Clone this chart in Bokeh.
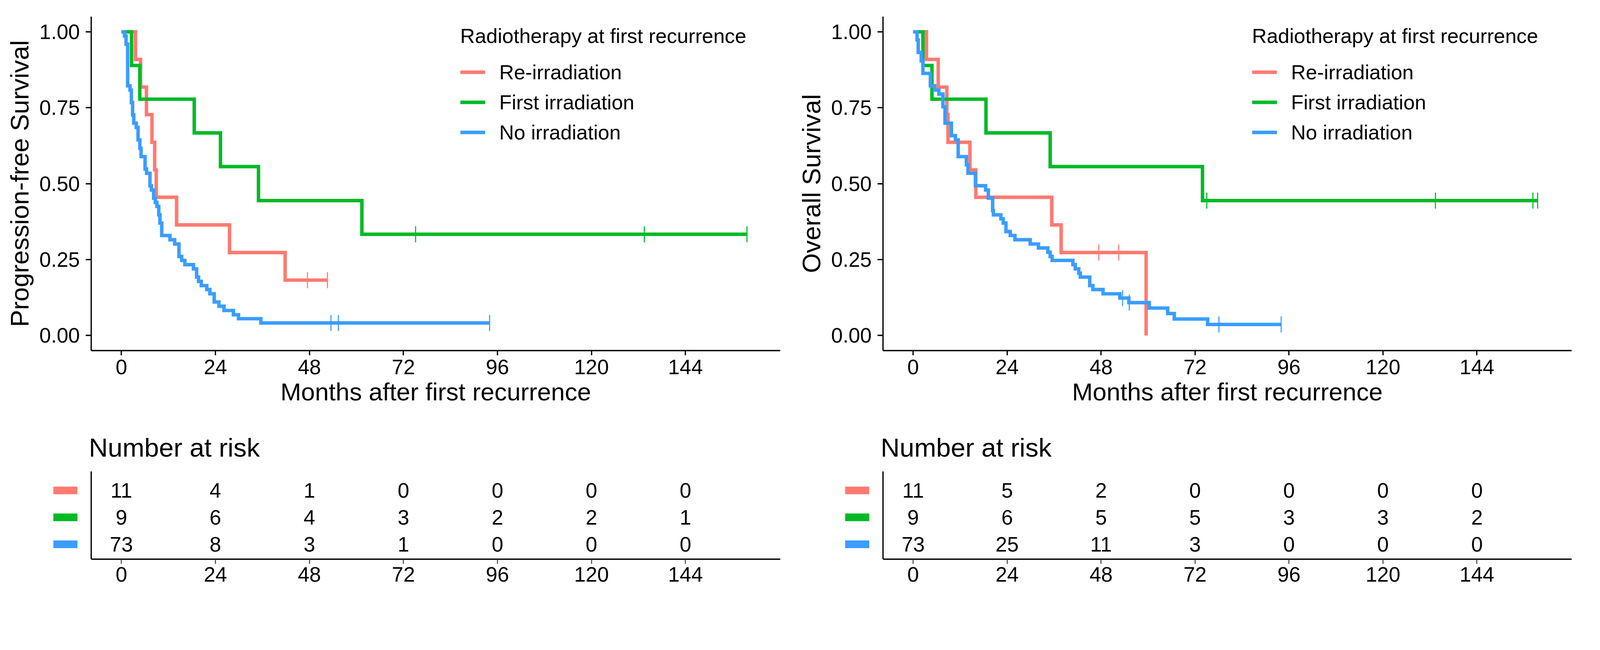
import numpy as np
from bokeh.plotting import figure
from bokeh.models import (Range1d, FixedTicker, NumeralTickFormatter, Legend,
                          LegendItem, ColumnDataSource, Span)
from bokeh.layouts import row, column
from bokeh.embed import file_html
from bokeh.resources import INLINE
from bokeh.core.properties import value

FONT = "Liberation Sans"

# ---------------- data ----------------
groups = ["Re-irradiation", "First irradiation", "No irradiation"]
colors = ["#FF7A70", "#00BA26", "#3A9DFF"]
legend_title = "Radiotherapy at first recurrence"
x_title = "Months after first recurrence"
pfs_y_title = "Progression-free Survival"
os_y_title = "Overall Survival"
risk_title = "Number at risk"
x_ticks = [0, 24, 48, 72, 96, 120, 144]
y_ticks = [0, 0.25, 0.5, 0.75, 1.0]
risk_times = [0, 24, 48, 72, 96, 120, 144]

# Progression-free survival (step times / survival level after step)
pfs_red_t = [0, 3.6, 4.9, 6.4, 7.8, 8.5, 8.9, 14.1, 27.6, 41.8, 52.6]
pfs_red_s = [1.0, 0.909, 0.818, 0.727, 0.636, 0.545, 0.455, 0.364, 0.273, 0.182, 0.182]
pfs_red_cens = [47.5, 52.6]

pfs_green_t = [0, 2.6, 4.7, 18.6, 25.3, 35.0, 61.4, 159.7]
pfs_green_s = [1.0, 0.889, 0.778, 0.667, 0.556, 0.444, 0.333, 0.333]
pfs_green_cens = [75.1, 133.5, 159.7]

pfs_blue_t = [0, 0.8, 1.2, 1.6, 2.2, 2.55, 2.86, 3.17, 3.8, 4.26, 4.72, 5.03,
              6.05, 6.43, 7.3, 7.67, 8.23, 8.67, 9.07, 9.54, 9.85, 10.3, 12.4,
              13.6, 14.7, 15.4, 16.2, 18.4, 19.2, 19.7, 20.4, 21.8, 22.6, 23.7,
              24.9, 26.2, 28.6, 29.9, 35.6, 94.0]
pfs_blue_s = [1.0, 0.986, 0.959, 0.822, 0.808, 0.767, 0.726, 0.699, 0.685, 0.644,
              0.616, 0.589, 0.548, 0.534, 0.493, 0.479, 0.452, 0.438, 0.425, 0.397,
              0.370, 0.329, 0.315, 0.301, 0.260, 0.247, 0.233, 0.219, 0.192, 0.178,
              0.164, 0.151, 0.137, 0.110, 0.096, 0.082, 0.068, 0.055, 0.041, 0.041]
pfs_blue_cens = [53.5, 55.4, 94.0]

# Overall survival
os_red_t = [0, 3.4, 6.4, 8.6, 8.9, 14.5, 16.0, 35.4, 37.8, 59.5]
os_red_s = [1.0, 0.909, 0.818, 0.727, 0.636, 0.545, 0.455, 0.364, 0.273, 0.0]
os_red_cens = [47.4, 52.5]

os_green_t = [0, 2.5, 4.8, 18.6, 35.0, 73.9, 159.5]
os_green_s = [1.0, 0.889, 0.778, 0.667, 0.556, 0.444, 0.444]
os_green_cens = [75.0, 133.4, 158.3, 159.5]

os_blue_t = [0, 1.0, 1.3, 2.06, 2.5, 4.4, 5.5, 6.56, 7.6, 8.14, 9.77, 10.8, 11.5,
             13.6, 14.0, 15.9, 18.5, 19.2, 20.3, 20.5, 22.4, 23.0, 23.7, 24.8,
             26.0, 29.9, 32.0, 34.4, 35.0, 35.5, 40.8, 41.4, 42.3, 42.7, 45.1,
             45.9, 48.5, 52.8, 55.1, 60.3, 65.0, 66.7, 75.2, 94.0]
os_blue_s = [1.0, 0.973, 0.932, 0.904, 0.863, 0.822, 0.808, 0.795, 0.753, 0.699,
             0.658, 0.644, 0.589, 0.562, 0.534, 0.493, 0.479, 0.452, 0.411, 0.397,
             0.384, 0.370, 0.342, 0.329, 0.315, 0.301, 0.288, 0.274, 0.260, 0.247,
             0.233, 0.219, 0.205, 0.192, 0.164, 0.151, 0.137, 0.123, 0.108, 0.090,
             0.072, 0.054, 0.036, 0.036]
os_blue_cens = [53.5, 55.2, 78.1, 94.0]

# Number at risk
pfs_risk_red = [11, 4, 1, 0, 0, 0, 0]
pfs_risk_green = [9, 6, 4, 3, 2, 2, 1]
pfs_risk_blue = [73, 8, 3, 1, 0, 0, 0]
os_risk_red = [11, 5, 2, 0, 0, 0, 0]
os_risk_green = [9, 6, 5, 5, 3, 3, 2]
os_risk_blue = [73, 25, 11, 3, 0, 0, 0]

X_RANGE = (-7.7, 168.2)

# ---------------- geometry (screen pixels of the picture, scaled to CSS) ----------------
Z = 1.07   # observed picture / CSS pixel ratio


def px(v):
    return v / Z


def fs(v):
    return f"{px(v):.1f}px"


ML = round(px(258) - 8)          # KM left border
KM_TOP = round(px(53) - 8)
FW_L = round(px(1888))
FW_R = round(px(1886))
W_L = round(px(2427)) - ML - 8
MR_L = W_L - ML - FW_L
MR_R = MR_L
W_R = ML + FW_R + MR_R
KM_FH = round(px(915))
H_KM = round(px(1165)) - 8
KM_BOT = H_KM - KM_TOP - KM_FH
RK_TOP = round(px(1292)) - round(px(1165))
RK_FH = round(px(248))
RK_BOT = 102
H_RK = RK_TOP + RK_FH + RK_BOT
RK_ML = round(px(140) - 8)


def level_at(times, levels, tc):
    idx = np.searchsorted(np.asarray(times), np.asarray(tc), side="right") - 1
    return [levels[i] for i in idx]


def style_axis(ax, tick_w=3.5, tick_color="black"):
    ax.axis_line_width = px(3.5)
    ax.axis_line_color = "black"
    ax.major_tick_line_width = px(tick_w)
    ax.major_tick_line_color = tick_color
    ax.major_tick_in = 0
    ax.minor_tick_line_color = None
    ax.major_label_text_font = FONT
    ax.major_label_text_font_size = fs(57)
    ax.major_label_text_color = "black"
    ax.axis_label_text_font = FONT
    ax.axis_label_text_font_style = "normal"
    ax.axis_label_text_color = "black"


def km_figure(width, right_border, curves, ytitle):
    p = figure(width=width, height=H_KM, x_range=Range1d(*X_RANGE),
               y_range=Range1d(-0.05, 1.05), output_backend="svg",
               toolbar_location=None, min_border_left=ML, min_border_top=KM_TOP,
               min_border_bottom=KM_BOT, min_border_right=right_border)
    p.xgrid.visible = False
    p.ygrid.visible = False
    p.outline_line_color = None
    p.background_fill_color = "white"

    xa = p.xaxis[0]
    ya = p.yaxis[0]
    style_axis(xa)
    style_axis(ya)
    xa.ticker = FixedTicker(ticks=x_ticks)
    xa.major_tick_out = 12
    xa.major_label_standoff = 11
    xa.axis_label = x_title
    xa.axis_label_text_font_size = fs(68)
    xa.axis_label_standoff = 6
    ya.ticker = FixedTicker(ticks=y_ticks)
    ya.formatter = NumeralTickFormatter(format="0.00")
    ya.major_tick_out = 14
    ya.major_label_standoff = 15
    ya.axis_label = ytitle
    ya.axis_label_text_font_size = fs(70)
    ya.axis_label_standoff = 11

    lines = []
    for (t, s, tc), col in zip(curves, colors):
        src = ColumnDataSource(dict(t=t, s=s))
        r = p.step("t", "s", source=src, mode="after", line_color=col,
                   line_width=px(9.5), line_join="miter")
        lines.append(r)
    cens = []
    for (t, s, tc), col in zip(curves, colors):
        csrc = ColumnDataSource(dict(t=tc, s=level_at(t, s, tc)))
        c = p.scatter("t", "s", source=csrc, marker="dash", angle=np.pi / 2,
                      size=px(44), line_color=col, line_width=px(3))
        cens.append(c)

    legend = Legend(items=[LegendItem(label=g, renderers=[lines[i], cens[i]])
                           for i, g in enumerate(groups)],
                    location=(945, 520))
    legend.title = legend_title
    legend.title_text_font = FONT
    legend.title_text_font_size = fs(56)
    legend.title_text_font_style = "normal"
    legend.title_text_color = "black"
    legend.title_standoff = 24
    legend.label_text_font = FONT
    legend.label_text_font_size = fs(56)
    legend.label_text_color = "black"
    legend.label_standoff = 36
    legend.glyph_width = 64
    legend.glyph_height = 77
    legend.label_height = 77
    legend.spacing = 0
    legend.padding = 0
    legend.margin = 0
    legend.border_line_color = None
    legend.background_fill_alpha = 0
    p.add_layout(legend)
    return p


def risk_figure(width, right_border, frame_w_km, red, green, blue):
    per = frame_w_km / (X_RANGE[1] - X_RANGE[0])          # CSS px per month
    frame_w = width - RK_ML - right_border
    x0 = X_RANGE[1] - frame_w / per
    q = figure(width=width, height=H_RK, x_range=Range1d(x0, X_RANGE[1]),
               y_range=Range1d(0.447, 3.71), output_backend="svg",
               toolbar_location=None, min_border_left=RK_ML, min_border_top=RK_TOP,
               min_border_bottom=RK_BOT, min_border_right=right_border)
    q.xgrid.visible = False
    q.ygrid.visible = False
    q.outline_line_color = None
    q.title.text = risk_title
    q.title.text_font = FONT
    q.title.text_font_size = fs(72)
    q.title.text_font_style = "normal"
    q.title.text_color = "black"
    q.title.align = "left"
    q.title.offset = 104
    q.title.standoff = 48

    xa = q.xaxis[0]
    style_axis(xa, tick_w=2.5, tick_color="#333333")
    xa.ticker = FixedTicker(ticks=x_ticks)
    xa.bounds = X_RANGE
    xa.major_tick_out = 12
    xa.major_label_standoff = 8
    q.yaxis.visible = False
    q.add_layout(Span(location=X_RANGE[0], dimension="height",
                      line_color="black", line_width=px(3.5)))

    for yrow, vals in [(3, red), (2, green), (1, blue)]:
        src = ColumnDataSource(dict(x=risk_times, y=[yrow] * len(risk_times),
                                    txt=[str(v) for v in vals]))
        q.text("x", "y", text="txt", source=src, text_font=value(FONT),
               text_font_size=fs(57), text_align="center",
               text_baseline="middle", text_color="black")

    # coloured group keys in front of each row (like the y labels of survminer)
    strip_x = x0 + px(187 - 140) / per
    ssrc = ColumnDataSource(dict(x=[strip_x] * 3, y=[3, 2, 1], c=colors))
    q.rect("x", "y", source=ssrc, width=px(66), height=px(21),
           width_units="screen", height_units="screen", fill_color="c",
           line_color=None)
    return q


pfs_curves = [(pfs_red_t, pfs_red_s, pfs_red_cens),
              (pfs_green_t, pfs_green_s, pfs_green_cens),
              (pfs_blue_t, pfs_blue_s, pfs_blue_cens)]
os_curves = [(os_red_t, os_red_s, os_red_cens),
             (os_green_t, os_green_s, os_green_cens),
             (os_blue_t, os_blue_s, os_blue_cens)]

km_l = km_figure(W_L, MR_L, pfs_curves, pfs_y_title)
km_r = km_figure(W_R, MR_R, os_curves, os_y_title)
rk_l = risk_figure(W_L, MR_L, FW_L, pfs_risk_red, pfs_risk_green, pfs_risk_blue)
rk_r = risk_figure(W_R, MR_R, FW_R, os_risk_red, os_risk_green, os_risk_blue)

layout = column(row(km_l, km_r), row(rk_l, rk_r))
open("out.html", "w").write(file_html(layout, INLINE))
